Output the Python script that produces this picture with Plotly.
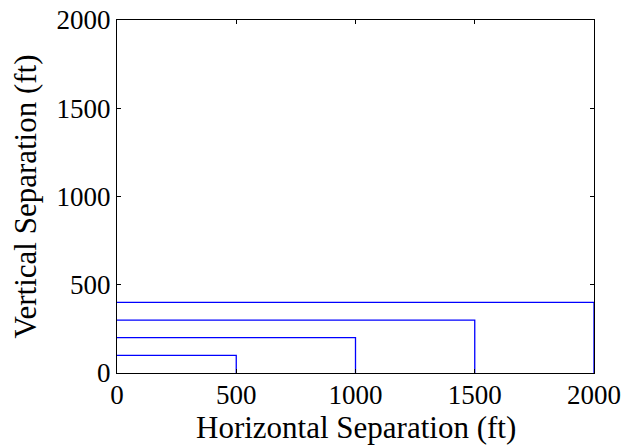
import plotly.graph_objects as go

widths = [500, 1000, 1500, 2000]
heights = [100, 200, 300, 400]
tick_vals = [0, 500, 1000, 1500, 2000]
x_title = "Horizontal Separation (ft)"
y_title = "Vertical Separation (ft)"

fig = go.Figure()
for w, h in zip(widths, heights):
    fig.add_trace(go.Scatter(x=[0, w, w], y=[h, h, 0], mode="lines",
                             line=dict(color="#0000ff", width=1.3),
                             showlegend=False, hoverinfo="skip"))

tick_font = dict(family="Liberation Serif, serif", size=27, color="black")
title_font = dict(family="Liberation Serif, serif", size=31, color="black")
axis_common = dict(range=[0, 2000], tickvals=tick_vals, ticks="inside", ticklen=4,
                   tickcolor="black", tickwidth=1, showline=True, linecolor="black",
                   linewidth=1.3, mirror="ticks", showgrid=False, zeroline=False,
                   tickfont=tick_font, automargin=False)
fig.update_layout(
    width=626, height=448, margin=dict(l=117, r=32, t=20, b=75),
    plot_bgcolor="white", paper_bgcolor="white", font=tick_font,
    xaxis=dict(**axis_common, ticklabelstandoff=-3),
    yaxis=dict(**axis_common),
    annotations=[
        dict(text=x_title, xref="paper", yref="paper", x=0.5, y=0,
             xanchor="center", yanchor="bottom", yshift=-74, showarrow=False,
             font=title_font),
        dict(text=y_title, xref="paper", yref="paper", x=0, y=0.5,
             xanchor="center", yanchor="middle", xshift=-92, textangle=-90,
             showarrow=False, font=title_font),
    ],
)
fig.write_html("out.html")
